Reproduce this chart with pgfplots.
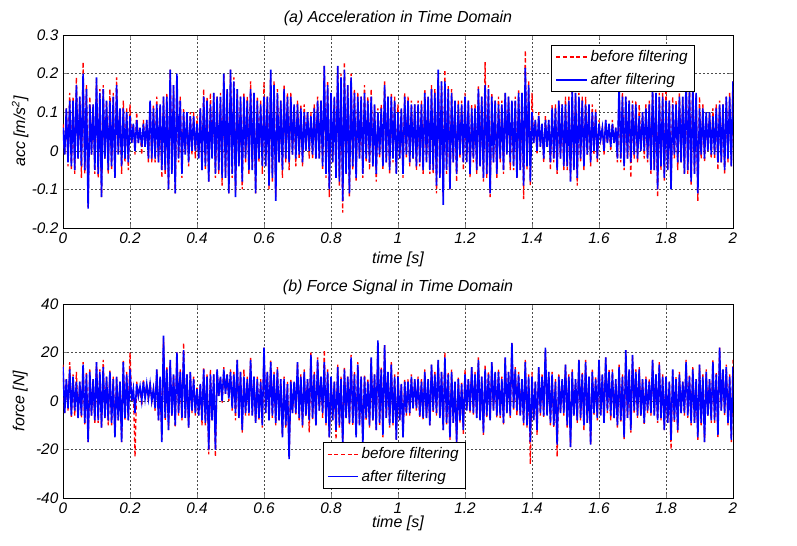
\documentclass[border=0pt]{standalone}
\usepackage{fontspec}
\setmainfont{Liberation Sans}
\usepackage{pgfplots}
\usepackage{pgfplotstable}
\pgfplotsset{compat=1.18}

% acceleration, m/s^2
\pgfplotstableread{
t before after
0.000 0.07 0.06
0.005 -0.01 -0.01
0.010 0.11 0.11
0.015 -0.04 -0.03
0.020 0.15 0.13
0.025 -0.05 -0.04
0.030 0.14 0.13
0.035 -0.06 -0.05
0.040 0.19 0.17
0.045 -0.02 -0.02
0.050 0.14 0.14
0.055 -0.07 -0.04
0.060 0.23 0.20
0.065 -0.06 -0.05
0.070 0.17 0.16
0.075 -0.145 -0.15
0.080 0.14 0.12
0.085 -0.01 -0.01
0.090 0.12 0.12
0.095 -0.06 -0.05
0.100 0.19 0.19
0.105 -0.07 -0.06
0.110 0.16 0.15
0.115 -0.12 -0.12
0.120 0.17 0.16
0.125 -0.02 -0.02
0.130 0.13 0.13
0.135 -0.06 -0.05
0.140 0.16 0.13
0.145 -0.05 -0.04
0.150 0.15 0.14
0.155 -0.07 -0.07
0.160 0.19 0.17
0.165 -0.01 -0.01
0.170 0.11 0.11
0.175 -0.06 -0.04
0.180 0.13 0.11
0.185 -0.03 -0.02
0.190 0.11 0.10
0.195 -0.05 -0.03
0.200 0.12 0.09
0.205 0.02 0.02
0.210 0.07 0.07
0.215 -0.01 0.00
0.220 0.10 0.08
0.225 0.02 0.02
0.230 0.06 0.06
0.235 -0.01 0.01
0.240 0.08 0.07
0.245 0.01 0.01
0.250 0.08 0.08
0.255 -0.03 -0.02
0.260 0.13 0.13
0.265 -0.03 -0.02
0.270 0.12 0.11
0.275 -0.03 -0.02
0.280 0.14 0.12
0.285 -0.03 -0.03
0.290 0.12 0.12
0.295 -0.07 -0.05
0.300 0.14 0.14
0.305 -0.06 -0.05
0.310 0.15 0.14
0.315 -0.10 -0.10
0.320 0.21 0.21
0.325 -0.06 -0.06
0.330 0.17 0.17
0.335 -0.11 -0.11
0.340 0.18 0.20
0.345 -0.03 -0.02
0.350 0.14 0.13
0.355 -0.07 -0.06
0.360 0.11 0.10
0.365 -0.01 -0.01
0.370 0.10 0.10
0.375 -0.04 -0.03
0.380 0.10 0.09
0.385 -0.01 0.00
0.390 0.10 0.09
0.395 -0.02 0.00
0.400 0.09 0.07
0.405 -0.02 -0.02
0.410 0.11 0.11
0.415 -0.05 -0.05
0.420 0.16 0.14
0.425 -0.05 -0.04
0.430 0.14 0.13
0.435 -0.08 -0.08
0.440 0.15 0.12
0.445 -0.02 -0.02
0.450 0.15 0.15
0.455 -0.07 -0.06
0.460 0.14 0.14
0.465 -0.06 -0.05
0.470 0.15 0.14
0.475 -0.09 -0.07
0.480 0.20 0.20
0.485 -0.07 -0.07
0.490 0.16 0.16
0.495 -0.11 -0.11
0.500 0.21 0.21
0.505 -0.07 -0.06
0.510 0.19 0.18
0.515 -0.11 -0.12
0.520 0.16 0.16
0.525 -0.04 -0.04
0.530 0.14 0.14
0.535 -0.10 -0.08
0.540 0.15 0.14
0.545 -0.03 -0.02
0.550 0.14 0.13
0.555 -0.06 -0.05
0.560 0.18 0.16
0.565 -0.05 -0.05
0.570 0.15 0.15
0.575 -0.11 -0.11
0.580 0.14 0.13
0.585 -0.03 -0.02
0.590 0.13 0.12
0.595 -0.06 -0.04
0.600 0.18 0.14
0.605 -0.04 -0.04
0.610 0.14 0.14
0.615 -0.10 -0.09
0.620 0.20 0.21
0.625 -0.08 -0.07
0.630 0.18 0.17
0.635 -0.12 -0.13
0.640 0.16 0.15
0.645 -0.03 -0.03
0.650 0.13 0.13
0.655 -0.07 -0.05
0.660 0.17 0.16
0.665 -0.03 -0.02
0.670 0.15 0.14
0.675 -0.05 -0.03
0.680 0.15 0.14
0.685 -0.01 -0.01
0.690 0.12 0.12
0.695 -0.04 -0.02
0.700 0.13 0.12
0.705 -0.02 -0.01
0.710 0.12 0.11
0.715 -0.04 -0.03
0.720 0.12 0.10
0.725 0.00 0.00
0.730 0.10 0.10
0.735 -0.02 0.00
0.740 0.10 0.09
0.745 -0.02 -0.01
0.750 0.12 0.11
0.755 -0.02 -0.02
0.760 0.14 0.13
0.765 -0.02 -0.02
0.770 0.13 0.13
0.775 -0.05 -0.04
0.780 0.22 0.22
0.785 -0.07 -0.06
0.790 0.18 0.17
0.795 -0.12 -0.10
0.800 0.14 0.15
0.805 -0.03 -0.03
0.810 0.14 0.14
0.815 -0.06 -0.07
0.820 0.22 0.22
0.825 -0.09 -0.08
0.830 0.20 0.19
0.835 -0.16 -0.13
0.840 0.23 0.21
0.845 -0.06 -0.06
0.850 0.17 0.17
0.855 -0.12 -0.11
0.860 0.20 0.19
0.865 -0.05 -0.04
0.870 0.16 0.15
0.875 -0.08 -0.07
0.880 0.15 0.14
0.885 -0.02 -0.02
0.890 0.14 0.14
0.895 -0.07 -0.06
0.900 0.17 0.15
0.905 -0.03 -0.02
0.910 0.14 0.13
0.915 -0.05 -0.03
0.920 0.16 0.14
0.925 -0.04 -0.04
0.930 0.12 0.12
0.935 -0.08 -0.06
0.940 0.11 0.10
0.945 -0.02 -0.01
0.950 0.12 0.11
0.955 -0.05 -0.04
0.960 0.18 0.17
0.965 -0.03 -0.03
0.970 0.14 0.14
0.975 -0.06 -0.05
0.980 0.15 0.14
0.985 -0.03 -0.02
0.990 0.14 0.13
0.995 -0.06 -0.06
1.000 0.12 0.10
1.005 -0.02 -0.02
1.010 0.11 0.11
1.015 -0.07 -0.06
1.020 0.15 0.14
1.025 -0.02 -0.01
1.030 0.14 0.13
1.035 -0.04 -0.03
1.040 0.13 0.12
1.045 -0.02 -0.02
1.050 0.12 0.12
1.055 -0.05 -0.04
1.060 0.13 0.12
1.065 -0.04 -0.03
1.070 0.13 0.12
1.075 -0.06 -0.05
1.080 0.16 0.15
1.085 -0.03 -0.03
1.090 0.14 0.14
1.095 -0.06 -0.05
1.100 0.17 0.16
1.105 -0.06 -0.05
1.110 0.16 0.15
1.115 -0.11 -0.09
1.120 0.20 0.21
1.125 -0.07 -0.07
1.130 0.18 0.18
1.135 -0.12 -0.14
1.140 0.21 0.18
1.145 -0.06 -0.05
1.150 0.17 0.16
1.155 -0.10 -0.10
1.160 0.16 0.15
1.165 -0.03 -0.03
1.170 0.13 0.13
1.175 -0.08 -0.06
1.180 0.13 0.12
1.185 -0.02 -0.01
1.190 0.13 0.12
1.195 -0.05 -0.03
1.200 0.15 0.14
1.205 -0.03 -0.03
1.210 0.13 0.13
1.215 -0.07 -0.06
1.220 0.12 0.11
1.225 -0.03 -0.02
1.230 0.12 0.11
1.235 -0.06 -0.05
1.240 0.17 0.16
1.245 -0.04 -0.04
1.250 0.14 0.14
1.255 -0.08 -0.07
1.260 0.23 0.17
1.265 -0.07 -0.06
1.270 0.17 0.16
1.275 -0.12 -0.11
1.280 0.15 0.14
1.285 -0.03 -0.03
1.290 0.13 0.13
1.295 -0.07 -0.06
1.300 0.14 0.12
1.305 -0.03 -0.02
1.310 0.13 0.12
1.315 -0.06 -0.05
1.320 0.15 0.15
1.325 -0.01 -0.01
1.330 0.14 0.14
1.335 -0.05 -0.03
1.340 0.13 0.13
1.345 -0.05 -0.04
1.350 0.14 0.13
1.355 -0.07 -0.07
1.360 0.16 0.15
1.365 -0.05 -0.05
1.370 0.15 0.15
1.375 -0.125 -0.09
1.380 0.26 0.215
1.385 -0.05 -0.04
1.390 0.18 0.17
1.395 -0.09 -0.08
1.400 0.15 0.10
1.405 0.02 0.02
1.410 0.08 0.08
1.415 -0.01 0.00
1.420 0.10 0.09
1.425 0.01 0.01
1.430 0.07 0.07
1.435 -0.03 -0.02
1.440 0.09 0.08
1.445 0.01 0.01
1.450 0.08 0.08
1.455 -0.05 -0.03
1.460 0.12 0.11
1.465 -0.03 -0.02
1.470 0.12 0.11
1.475 -0.06 -0.05
1.480 0.13 0.13
1.485 -0.02 -0.02
1.490 0.12 0.12
1.495 -0.05 -0.04
1.500 0.14 0.12
1.505 -0.05 -0.04
1.510 0.14 0.13
1.515 -0.08 -0.08
1.520 0.16 0.16
1.525 -0.05 -0.05
1.530 0.15 0.15
1.535 -0.09 -0.07
1.540 0.15 0.14
1.545 -0.03 -0.02
1.550 0.14 0.13
1.555 -0.05 -0.04
1.560 0.14 0.12
1.565 -0.01 -0.01
1.570 0.12 0.12
1.575 -0.04 -0.03
1.580 0.12 0.10
1.585 -0.01 0.00
1.590 0.11 0.10
1.595 -0.03 -0.02
1.600 0.08 0.07
1.605 0.03 0.03
1.610 0.06 0.06
1.615 -0.01 0.00
1.620 0.08 0.08
1.625 0.02 0.02
1.630 0.07 0.07
1.635 0.00 0.01
1.640 0.08 0.07
1.645 0.02 0.02
1.650 0.06 0.06
1.655 -0.03 -0.02
1.660 0.15 0.17
1.665 -0.03 -0.02
1.670 0.15 0.14
1.675 -0.05 -0.04
1.680 0.14 0.14
1.685 -0.02 -0.02
1.690 0.13 0.13
1.695 -0.07 -0.03
1.700 0.13 0.12
1.705 -0.02 -0.01
1.710 0.13 0.12
1.715 -0.03 -0.02
1.720 0.12 0.09
1.725 0.00 0.00
1.730 0.10 0.10
1.735 -0.02 0.00
1.740 0.12 0.11
1.745 -0.03 -0.02
1.750 0.13 0.12
1.755 -0.06 -0.05
1.760 0.17 0.16
1.765 -0.05 -0.05
1.770 0.15 0.15
1.775 -0.12 -0.10
1.780 0.15 0.14
1.785 -0.05 -0.04
1.790 0.15 0.14
1.795 -0.08 -0.07
1.800 0.17 0.13
1.805 -0.05 -0.05
1.810 0.13 0.13
1.815 -0.10 -0.10
1.820 0.14 0.12
1.825 -0.02 -0.01
1.830 0.13 0.12
1.835 -0.05 -0.03
1.840 0.15 0.14
1.845 -0.03 -0.03
1.850 0.14 0.14
1.855 -0.06 -0.06
1.860 0.19 0.19
1.865 -0.06 -0.05
1.870 0.17 0.16
1.875 -0.09 -0.08
1.880 0.20 0.17
1.885 -0.06 -0.06
1.890 0.15 0.15
1.895 -0.13 -0.11
1.900 0.14 0.11
1.905 -0.02 -0.01
1.910 0.12 0.11
1.915 -0.03 -0.02
1.920 0.10 0.10
1.925 0.00 0.00
1.930 0.10 0.10
1.935 -0.02 -0.01
1.940 0.11 0.09
1.945 -0.02 -0.01
1.950 0.12 0.11
1.955 -0.05 -0.03
1.960 0.13 0.12
1.965 -0.03 -0.03
1.970 0.12 0.12
1.975 -0.06 -0.05
1.980 0.14 0.14
1.985 -0.03 -0.02
1.990 0.15 0.14
1.995 -0.04 -0.04
2.000 0.18 0.18
}\acc

% force, N
\pgfplotstableread{
t before after
0.000 15 14
0.005 -5 -5
0.010 9 9
0.015 -4 -3
0.020 16 13
0.025 -7 -6
0.030 11 10
0.035 -6 -4
0.040 12 8
0.045 -7 -7
0.050 8 8
0.055 -7 -6
0.060 16 15
0.065 -10 -9
0.070 12 11
0.075 -17 -17
0.080 13 12
0.085 -6 -6
0.090 9 9
0.095 -9 -8
0.100 16 16
0.105 -9 -8
0.110 13 12
0.115 -11 -11
0.120 17 14
0.125 -7 -7
0.130 10 10
0.135 -10 -8
0.140 13 12
0.145 -10 -9
0.150 10 9
0.155 -14 -15
0.160 10 10
0.165 -8 -8
0.170 8 8
0.175 -17 -17
0.180 17 16
0.185 -8 -7
0.190 12 11
0.195 -8 -8
0.200 20 13
0.205 0 0
0.210 5 5
0.215 -23 -5
0.220 8 7
0.225 2 2
0.230 6 6
0.235 -2 0
0.240 9 8
0.245 1 1
0.250 7 7
0.255 0 1
0.260 8 7
0.265 0 0
0.270 5 5
0.275 -4 -3
0.280 13 13
0.285 -8 -8
0.290 10 10
0.295 -16 -17
0.300 26 27
0.305 -8 -7
0.310 14 13
0.315 -12 -12
0.320 16 17
0.325 -6 -6
0.330 11 11
0.335 -11 -10
0.340 20 20
0.345 -6 -5
0.350 13 12
0.355 -8 -7
0.360 24 21
0.365 -7 -7
0.370 11 11
0.375 -11 -11
0.380 12 12
0.385 -5 -4
0.390 10 9
0.395 -6 -5
0.400 6 5
0.405 -6 -6
0.410 7 7
0.415 -10 -8
0.420 14 13
0.425 -10 -9
0.430 11 10
0.435 -22 -20
0.440 13 11
0.445 -8 -8
0.450 11 11
0.455 -23 -20
0.460 13 13
0.465 2 2
0.470 10 10
0.475 -1 0
0.480 14 13
0.485 3 3
0.490 11 11
0.495 0 1
0.500 13 12
0.505 -4 -3
0.510 12 11
0.515 -8 -5
0.520 17 17
0.525 -7 -7
0.530 12 12
0.535 -13 -12
0.540 13 10
0.545 -6 -5
0.550 10 9
0.555 -6 -5
0.560 18 17
0.565 -6 -6
0.570 10 10
0.575 -9 -9
0.580 10 9
0.585 -8 -7
0.590 9 8
0.595 -11 -10
0.600 22 22
0.605 -5 -5
0.610 12 12
0.615 -8 -8
0.620 17 16
0.625 -7 -6
0.630 12 11
0.635 -10 -9
0.640 14 13
0.645 -8 -8
0.650 9 9
0.655 -14 -15
0.660 10 9
0.665 -11 -10
0.670 8 7
0.675 -23 -24
0.680 9 8
0.685 -5 -5
0.690 8 8
0.695 -6 -5
0.700 16 16
0.705 -8 -7
0.710 11 10
0.715 -11 -10
0.720 13 12
0.725 -6 -6
0.730 9 9
0.735 -13 -8
0.740 20 19
0.745 -8 -7
0.750 12 11
0.755 -10 -10
0.760 18 17
0.765 -4 -4
0.770 10 10
0.775 -7 -5
0.780 21 16
0.785 -10 -9
0.790 13 12
0.795 -15 -15
0.800 10 10
0.805 -8 -8
0.810 8 8
0.815 -16 -12
0.820 15 14
0.825 -11 -10
0.830 10 9
0.835 -19 -18
0.840 14 13
0.845 -7 -7
0.850 10 10
0.855 -10 -9
0.860 19 18
0.865 -10 -9
0.870 12 11
0.875 -14 -15
0.880 16 15
0.885 -10 -10
0.890 10 10
0.895 -18 -18
0.900 11 10
0.905 -8 -7
0.910 9 8
0.915 -11 -10
0.920 18 18
0.925 -8 -8
0.930 11 11
0.935 -12 -12
0.940 24 25
0.945 -10 -9
0.950 14 13
0.955 -15 -14
0.960 23 23
0.965 -7 -7
0.970 12 12
0.975 -11 -10
0.980 16 15
0.985 -10 -9
0.990 11 10
0.995 -16 -16
1.000 12 10
1.005 -8 -8
1.010 7 7
1.015 -15 -15
1.020 9 8
1.025 -6 -5
1.030 9 8
1.035 -6 -5
1.040 11 10
1.045 -3 -3
1.050 9 9
1.055 -4 -3
1.060 10 9
1.065 -7 -6
1.070 9 8
1.075 -8 -7
1.080 13 12
1.085 -7 -7
1.090 9 9
1.095 -10 -10
1.100 15 15
1.105 -5 -4
1.110 12 11
1.115 -6 -5
1.120 17 17
1.125 -7 -7
1.130 12 12
1.135 -12 -12
1.140 20 18
1.145 -10 -9
1.150 12 11
1.155 -16 -15
1.160 13 12
1.165 -9 -9
1.170 8 8
1.175 -17 -17
1.180 10 9
1.185 -9 -8
1.190 8 7
1.195 -14 -12
1.200 13 11
1.205 -4 -4
1.210 9 9
1.215 -5 -4
1.220 14 14
1.225 -6 -5
1.230 12 11
1.235 -7 -7
1.240 18 17
1.245 -8 -8
1.250 10 10
1.255 -14 -13
1.260 15 13
1.265 -7 -6
1.270 12 11
1.275 -8 -8
1.280 16 16
1.285 -4 -4
1.290 12 12
1.295 -7 -6
1.300 13 12
1.305 -7 -6
1.310 10 9
1.315 -10 -9
1.320 18 18
1.325 -5 -5
1.330 12 12
1.335 -7 -6
1.340 24 24
1.345 -4 -3
1.350 14 13
1.355 -6 -4
1.360 12 11
1.365 -6 -6
1.370 9 9
1.375 -10 -9
1.380 17 16
1.385 -11 -10
1.390 11 10
1.395 -26 -17
1.400 12 10
1.405 -8 -8
1.410 8 8
1.415 -14 -12
1.420 14 14
1.425 -6 -5
1.430 11 10
1.435 -7 -6
1.440 21 22
1.445 -6 -6
1.450 12 12
1.455 -10 -9
1.460 12 11
1.465 -11 -10
1.470 9 8
1.475 -23 -18
1.480 11 10
1.485 -5 -5
1.490 9 9
1.495 -6 -5
1.500 15 15
1.505 -11 -10
1.510 11 10
1.515 -19 -19
1.520 13 12
1.525 -6 -6
1.530 9 9
1.535 -9 -8
1.540 17 17
1.545 -8 -7
1.550 12 11
1.555 -12 -10
1.560 17 16
1.565 -9 -9
1.570 10 10
1.575 -18 -18
1.580 13 12
1.585 -6 -5
1.590 10 9
1.595 -8 -7
1.600 17 17
1.605 -6 -6
1.610 11 11
1.615 -9 -9
1.620 18 18
1.625 -5 -4
1.630 13 12
1.635 -8 -6
1.640 13 12
1.645 -7 -7
1.650 9 9
1.655 -11 -10
1.660 15 14
1.665 -9 -8
1.670 11 10
1.675 -16 -15
1.680 21 21
1.685 -7 -7
1.690 13 13
1.695 -13 -12
1.700 19 19
1.705 -5 -4
1.710 13 12
1.715 -7 -6
1.720 14 13
1.725 -6 -6
1.730 9 9
1.735 -10 -9
1.740 10 9
1.745 -5 -4
1.750 9 8
1.755 -6 -5
1.760 17 17
1.765 -6 -6
1.770 11 11
1.775 -9 -8
1.780 16 15
1.785 -8 -7
1.790 11 10
1.795 -12 -12
1.800 10 10
1.805 -9 -9
1.810 8 8
1.815 -20 -16
1.820 13 13
1.825 -9 -8
1.830 10 9
1.835 -13 -12
1.840 12 11
1.845 -5 -5
1.850 8 8
1.855 -6 -5
1.860 17 16
1.865 -7 -6
1.870 11 10
1.875 -10 -9
1.880 14 13
1.885 -9 -9
1.890 9 9
1.895 -16 -15
1.900 15 15
1.905 -10 -9
1.910 11 10
1.915 -17 -17
1.920 13 12
1.925 -6 -6
1.930 9 9
1.935 -9 -8
1.940 17 16
1.945 -9 -8
1.950 12 11
1.955 -15 -14
1.960 22 22
1.965 -4 -4
1.970 13 13
1.975 -6 -5
1.980 15 14
1.985 -10 -9
1.990 11 10
1.995 -17 -16
2.000 17 14
}\force

\pgfplotsset{
  sig/.style={
    scale only axis,
    width=502.5pt,
    xmin=0, xmax=2,
    xtick={0,0.2,0.4,0.6,0.8,1,1.2,1.4,1.6,1.8,2},
    xticklabels={0,0.2,0.4,0.6,0.8,1,1.2,1.4,1.6,1.8,2},
    tick align=inside,
    major tick length=3pt,
    grid=major,
    grid style={black!70, line width=0.4pt, dash pattern=on 1.5pt off 1.5pt},
    axis line style={line width=0.6pt},
    tick label style={font=\itshape\fontsize{11.5}{13}\selectfont},
    label style={font=\itshape\fontsize{12}{14}\selectfont},
    title style={font=\itshape\fontsize{12}{14}\selectfont, anchor=center, yshift=6.5pt},
    legend cell align=left,
    legend style={font=\itshape\fontsize{11.5}{13}\selectfont, draw=black, fill=white,
      line width=0.6pt, inner xsep=3pt, inner ysep=2pt, row sep=3pt},
    xlabel={time [s]},
  },
}

\begin{document}
\begin{tikzpicture}

\begin{axis}[sig,
  at={(0,0)}, anchor=north west,
  height=144.75pt,
  ymin=-0.2, ymax=0.3,
  ytick={-0.2,-0.1,0,0.1,0.2,0.3},
  yticklabels={-0.2,-0.1,0,0.1,0.2,0.3},
  title={(a) Acceleration in Time Domain},
  ylabel={acc [m/s\textsuperscript{2}]},
  ylabel style={at={(axis description cs:-0.064,0.5)}, anchor=center},
  xlabel style={at={(axis description cs:0.5,-0.16)}, anchor=center},
  legend style={at={(0.943,0.948)}, anchor=north east},
  legend image code/.code={\draw[#1, line width=1.6pt] (0pt,0pt) -- (23pt,0pt);},
]
\addplot [red, line width=1.0pt, dash pattern=on 3pt off 2pt] table [x=t, y=before] {\acc};
\addlegendentry{before filtering}
\addplot [blue, line width=1.2pt] table [x=t, y=after] {\acc};
\addlegendentry{after filtering}
\end{axis}

\begin{axis}[sig,
  at={(0,-201.75pt)}, anchor=north west,
  height=145.5pt,
  ymin=-40, ymax=40,
  ytick={-40,-20,0,20,40},
  yticklabels={-40,-20,0,20,40},
  title={(b) Force Signal in Time Domain},
  ylabel={force [N]},
  ylabel style={at={(axis description cs:-0.064,0.5)}, anchor=center},
  xlabel style={at={(axis description cs:0.5,-0.129)}, anchor=center},
  legend style={at={(0.388,0.046)}, anchor=south west},
  legend image code/.code={\draw[#1, line width=0.7pt] (0pt,0pt) -- (23pt,0pt);},
]
\addplot [red, line width=1.0pt, dash pattern=on 3pt off 2pt] table [x=t, y=before] {\force};
\addlegendentry{before filtering}
\addplot [blue, line width=1.2pt] table [x=t, y=after] {\force};
\addlegendentry{after filtering}
\end{axis}

\pgfresetboundingbox
\path[use as bounding box] (-47.25pt,26.25pt) rectangle (550.5pt,-383.25pt);
\end{tikzpicture}
\end{document}
